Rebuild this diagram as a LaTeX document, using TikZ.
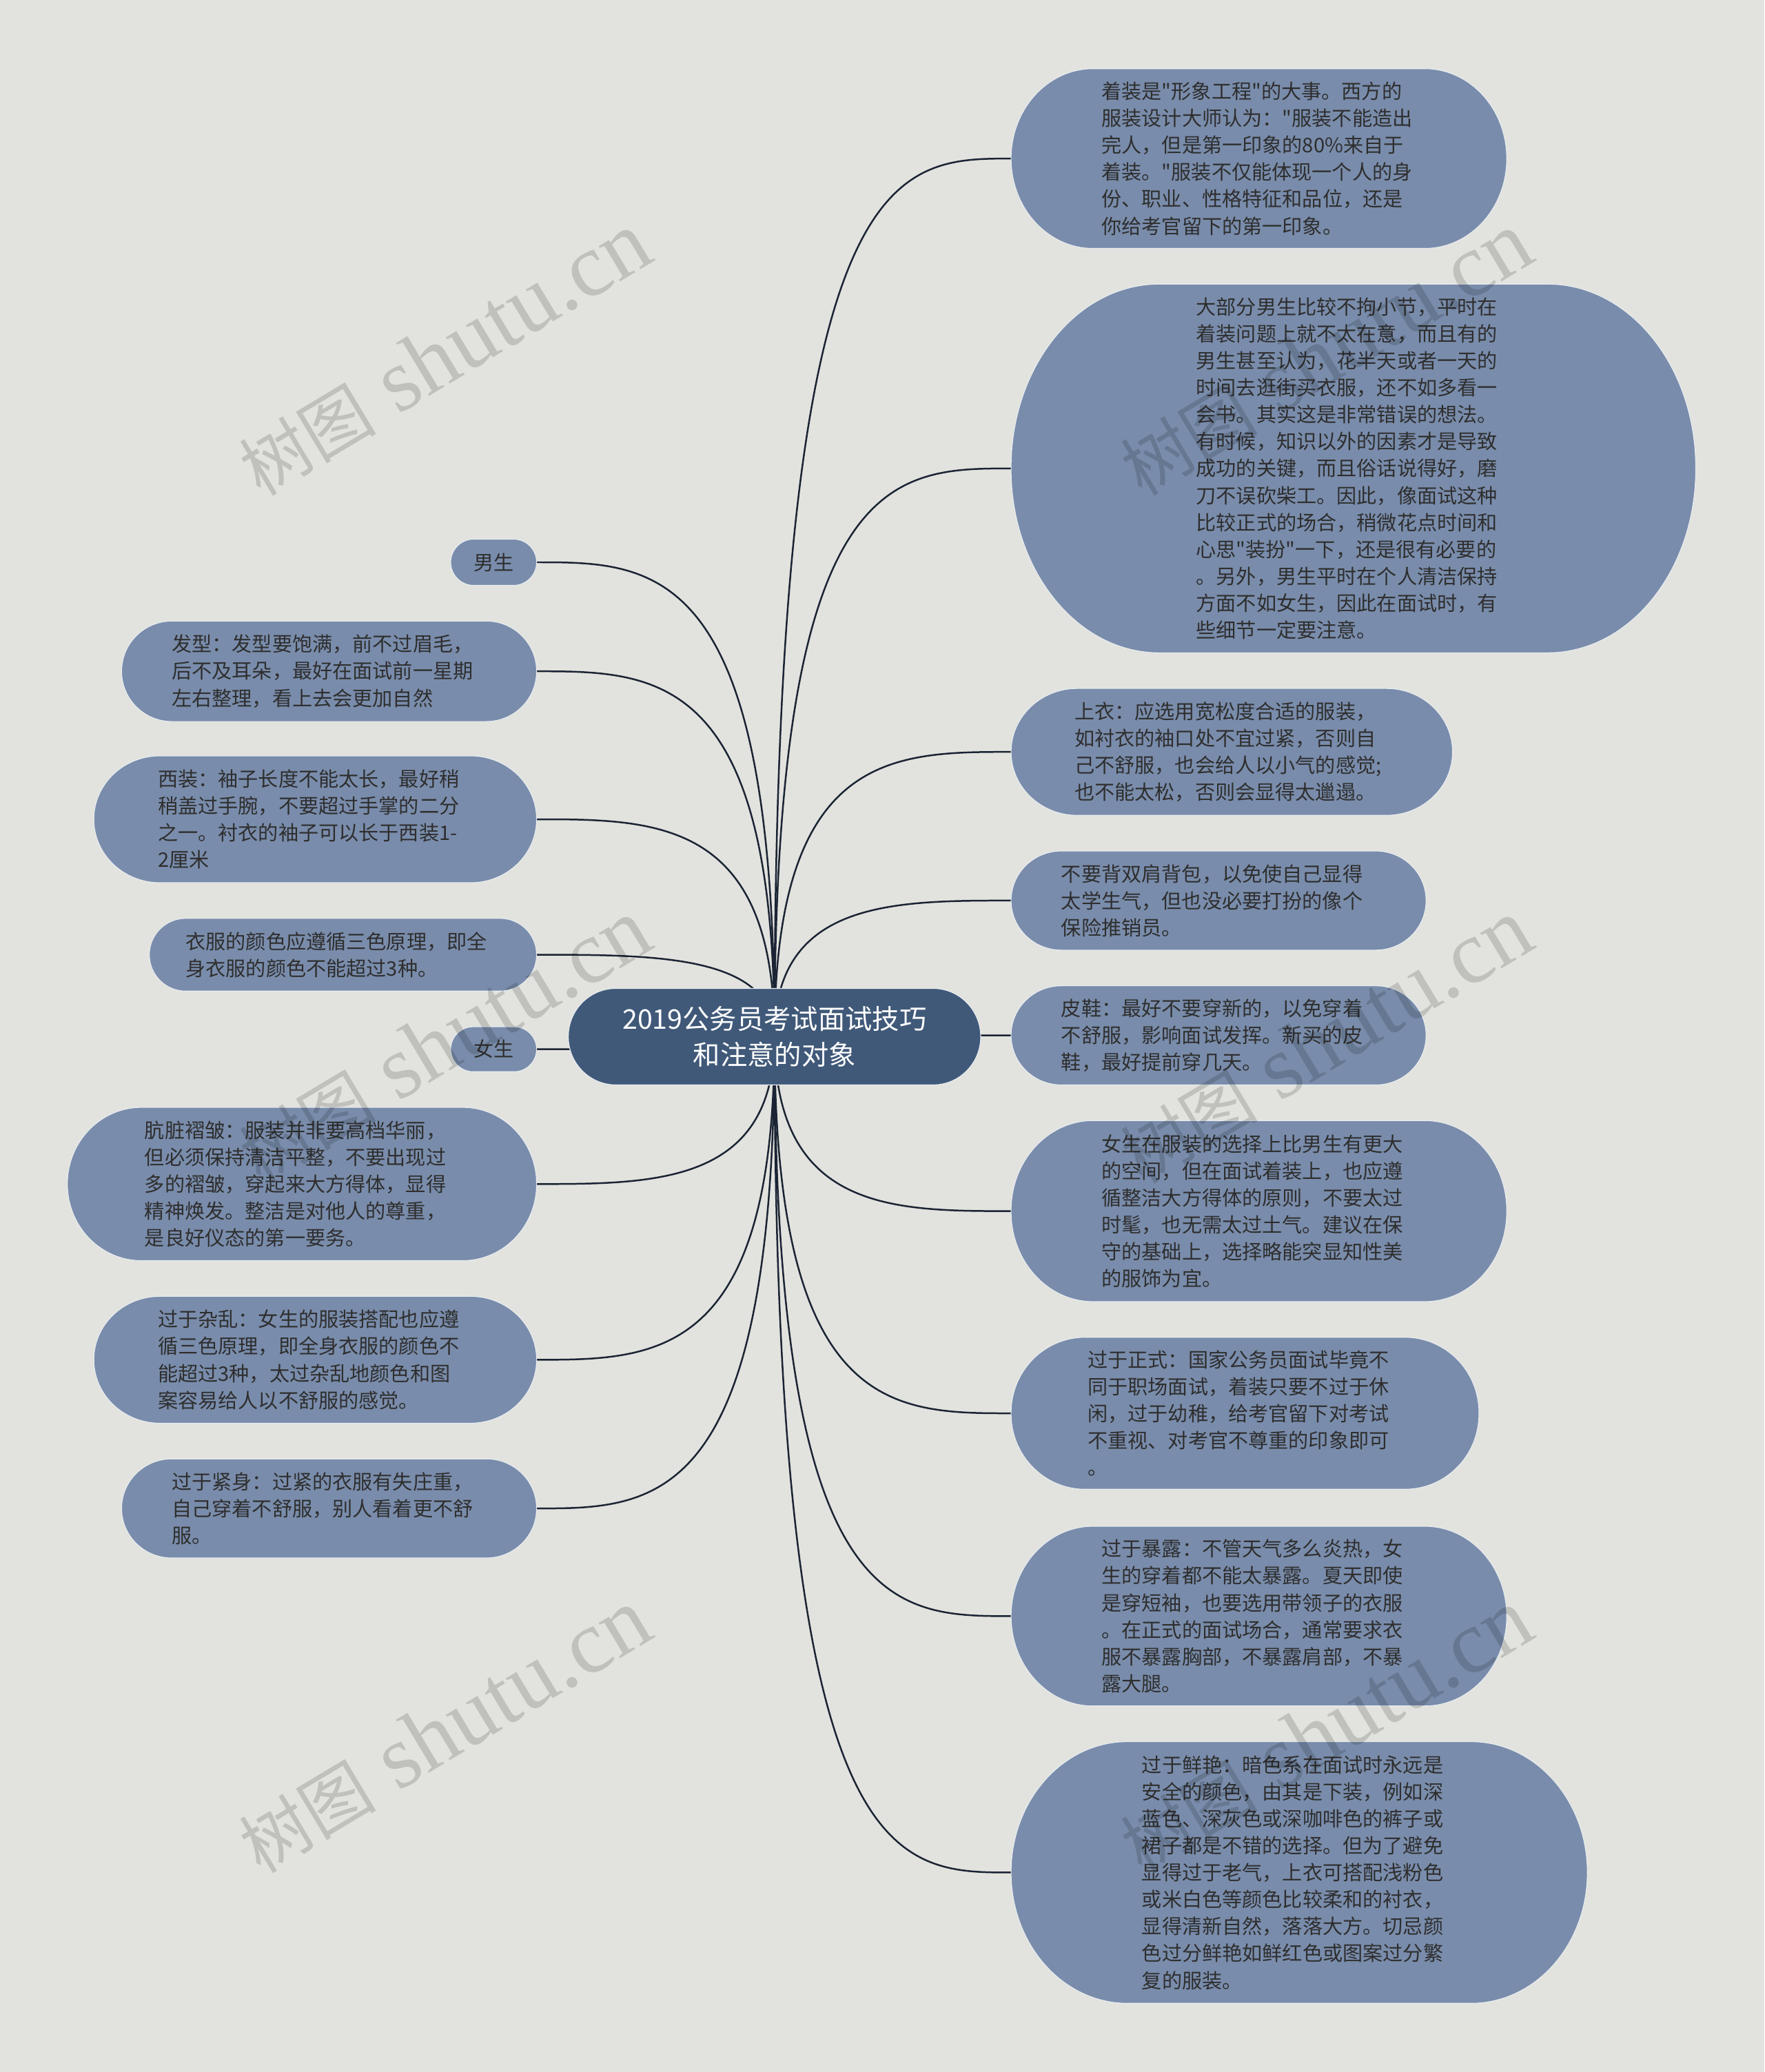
\documentclass[tikz,border=0pt]{standalone}
\usepackage{fontspec}
\setmainfont{Noto Sans CJK SC}[Ligatures=TeXOff]
\newfontfamily\wmserif{Liberation Serif}
\newfontfamily\wmcjk{Noto Sans CJK SC}
\usetikzlibrary{calc,backgrounds}
\definecolor{bgc}{RGB}{226,227,222}
\definecolor{nodefill}{RGB}{121,140,171}
\definecolor{rootfill}{RGB}{64,89,121}
\definecolor{linec}{RGB}{27,36,52}
\definecolor{txt}{RGB}{46,46,46}
\definecolor{edgec}{RGB}{232,236,240}
\begin{document}
\begin{tikzpicture}[x=1pt,y=1pt,
  box/.style 2 args={minimum width=#1pt, minimum height=#2pt, inner sep=0pt, outer sep=0pt},
  tag/.style={text=txt, align=left, font=\fontsize{15.2}{20.4}\selectfont},
  leaf/.style={tag, text width=238pt},
  rootnode/.style={text=white, align=center, font=\fontsize{20.5}{27}\selectfont},
  conn/.style={draw=linec, line width=1.3pt},
  wm/.style={rotate=31, text=black, text opacity=0.15, inner sep=0pt, font=\wmserif\fontsize{68}{68}\selectfont}
]
\useasboundingbox (0,0) rectangle (1335,-1568);

% root
\node[rootnode, box={312}{73}] (root) at (586,-784.5) {2019公务员考试面试技巧\\和注意的对象};

% right side
\node[leaf, box={375}{136}] (r1) at (952.5,-120) {着装是"形象工程"的大事。西方的\\服装设计大师认为："服装不能造出\\完人，但是第一印象的80\%来自于\\着装。"服装不仅能体现一个人的身\\份、职业、性格特征和品位，还是\\你给考官留下的第一印象。};
\node[leaf, box={518}{279}] (r2) at (1024,-354.5) {大部分男生比较不拘小节，平时在\\着装问题上就不太在意，而且有的\\男生甚至认为，花半天或者一天的\\时间去逛街买衣服，还不如多看一\\会书。其实这是非常错误的想法。\\有时候，知识以外的因素才是导致\\成功的关键，而且俗话说得好，磨\\刀不误砍柴工。因此，像面试这种\\比较正式的场合，稍微花点时间和\\心思"装扮"一下，还是很有必要的\\。另外，男生平时在个人清洁保持\\方面不如女生，因此在面试时，有\\些细节一定要注意。};
\node[leaf, box={334}{96}] (r3) at (932,-569) {上衣：应选用宽松度合适的服装，\\如衬衣的袖口处不宜过紧，否则自\\己不舒服，也会给人以小气的感觉;\\也不能太松，否则会显得太邋遢。};
\node[leaf, box={314}{75}] (r4) at (922,-681.5) {不要背双肩背包，以免使自己显得\\太学生气，但也没必要打扮的像个\\保险推销员。};
\node[leaf, box={314}{75}] (r5) at (922,-783.5) {皮鞋：最好不要穿新的，以免穿着\\不舒服，影响面试发挥。新买的皮\\鞋，最好提前穿几天。};
\node[leaf, box={375}{137}] (r6) at (952.5,-916.5) {女生在服装的选择上比男生有更大\\的空间，但在面试着装上，也应遵\\循整洁大方得体的原则，不要太过\\时髦，也无需太过土气。建议在保\\守的基础上，选择略能突显知性美\\的服饰为宜。};
\node[leaf, box={354}{115}] (r7) at (942,-1069.5) {过于正式：国家公务员面试毕竟不\\同于职场面试，着装只要不过于休\\闲，过于幼稚，给考官留下对考试\\不重视、对考官不尊重的印象即可\\。};
\node[leaf, box={375}{136}] (r8) at (952.5,-1223) {过于暴露：不管天气多么炎热，女\\生的穿着都不能太暴露。夏天即使\\是穿短袖，也要选用带领子的衣服\\。在正式的面试场合，通常要求衣\\服不暴露胸部，不暴露肩部，不暴\\露大腿。};
\node[leaf, box={436}{198}] (r9) at (983,-1417) {过于鲜艳：暗色系在面试时永远是\\安全的颜色，由其是下装，例如深\\蓝色、深灰色或深咖啡色的裤子或\\裙子都是不错的选择。但为了避免\\显得过于老气，上衣可搭配浅粉色\\或米白色等颜色比较柔和的衬衣，\\显得清新自然，落落大方。切忌颜\\色过分鲜艳如鲜红色或图案过分繁\\复的服装。};

% left side
\node[tag, box={65}{35}] (l1) at (373.5,-425.5) {男生};
\node[leaf, box={314}{76}] (l2) at (249,-508) {发型：发型要饱满，前不过眉毛，\\后不及耳朵，最好在面试前一星期\\左右整理，看上去会更加自然};
\node[leaf, box={335}{96}] (l3) at (238.5,-620) {西装：袖子长度不能太长，最好稍\\稍盖过手腕，不要超过手掌的二分\\之一。衬衣的袖子可以长于西装1-\\2厘米};
\node[leaf, box={293}{55}] (l4) at (259.5,-722.5) {衣服的颜色应遵循三色原理，即全\\身衣服的颜色不能超过3种。};
\node[tag, box={65}{34}] (l5) at (373.5,-794) {女生};
\node[leaf, box={355}{116}] (l6) at (228.5,-896) {肮脏褶皱：服装并非要高档华丽，\\但必须保持清洁平整，不要出现过\\多的褶皱，穿起来大方得体，显得\\精神焕发。整洁是对他人的尊重，\\是良好仪态的第一要务。};
\node[leaf, box={335}{96}] (l7) at (238.5,-1029) {过于杂乱：女生的服装搭配也应遵\\循三色原理，即全身衣服的颜色不\\能超过3种，太过杂乱地颜色和图\\案容易给人以不舒服的感觉。};
\node[leaf, box={314}{75}] (l8) at (249,-1141.5) {过于紧身：过紧的衣服有失庄重，\\自己穿着不舒服，别人看着更不舒\\服。};

\begin{scope}[on background layer]
  \fill[bgc] (0,0) rectangle (1335,-1568);
  \foreach \nd in {r1,r2,r3,r4,r5,r6,r7,r8,r9}
    \draw[conn] (root.center) .. controls (root.center |- \nd.west) and ($(root.center |- \nd.west)!0.5!(\nd.west)$) .. (\nd.west);
  \foreach \nd in {l1,l2,l3,l4,l5,l6,l7,l8}
    \draw[conn] (root.center) .. controls (root.center |- \nd.east) and ($(root.center |- \nd.east)!0.5!(\nd.east)$) .. (\nd.east);
  \foreach \nd/\rx/\ry/\cc in {root/36/36.5/rootfill,
      r1/62/68/nodefill, r2/112/139/nodefill, r3/50/48/nodefill, r4/38/37.5/nodefill,
      r5/38/37.5/nodefill, r6/62/68/nodefill, r7/56/57/nodefill, r8/62/68/nodefill, r9/88/99/nodefill,
      l1/17.5/17.5/nodefill, l2/38/38/nodefill, l3/50/48/nodefill, l4/27.5/27.5/nodefill,
      l5/17/17/nodefill, l6/56/58/nodefill, l7/50/48/nodefill, l8/38/37.5/nodefill}
    \filldraw[fill=\cc, draw=edgec, line width=0.6pt]
      let \p1=(\nd.south west), \p2=(\nd.north east) in
      (\x1+\rx pt,\y2) -- (\x2-\rx pt,\y2)
      arc[start angle=90,end angle=0,x radius=\rx pt,y radius=\ry pt]
      -- (\x2,\y1+\ry pt)
      arc[start angle=0,end angle=-90,x radius=\rx pt,y radius=\ry pt]
      -- (\x1+\rx pt,\y1)
      arc[start angle=270,end angle=180,x radius=\rx pt,y radius=\ry pt]
      -- (\x1,\y2-\ry pt)
      arc[start angle=180,end angle=90,x radius=\rx pt,y radius=\ry pt] -- cycle;
\end{scope}

% watermarks
\foreach \i/\wx/\wy in {1/336/268, 2/1003/268, 3/336/788, 4/1003/788, 5/336/1310, 6/1003/1310}
  \node[wm] (wm\i) at (\wx,-\wy) {{\wmcjk\fontsize{52}{52}\selectfont 树图} shutu.cn};
\end{tikzpicture}
\end{document}
